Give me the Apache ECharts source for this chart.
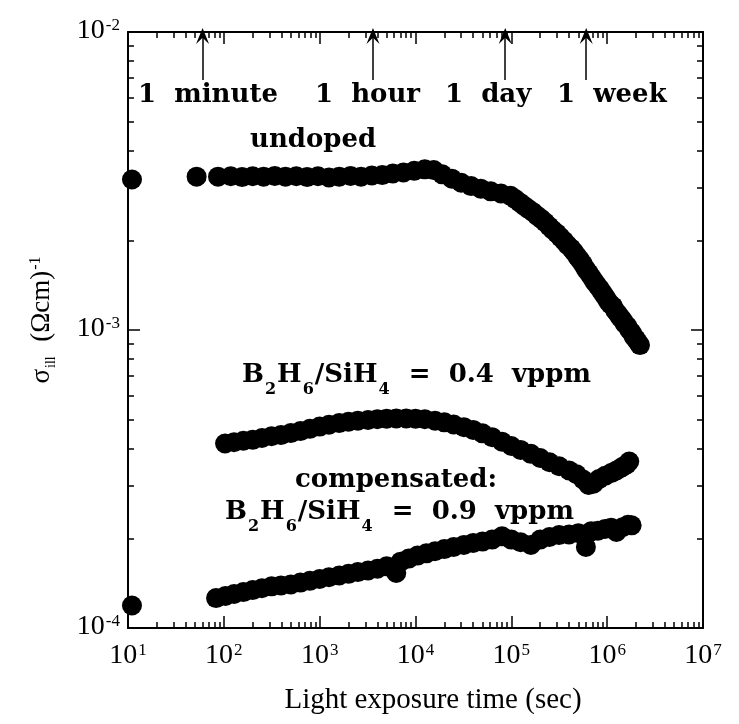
<!DOCTYPE html>
<html>
<head>
<meta charset="utf-8">
<script src="https://cdn.jsdelivr.net/npm/echarts@6/dist/echarts.min.js"></script>
<style>
  html, body { margin: 0; background: #fff; }
  #chart { width: 739px; height: 724px; }
</style>
</head>
<body>
<div id="chart"></div>
<script>
// light exposure time (sec) and sigma_ill (Ohm cm)^-1
const undopedTime = [11, 52, 87, 118, 155, 200, 260, 340, 440, 570, 740, 960, 1250, 1600, 2100, 2700, 3500, 4500, 5800, 7500, 9700, 12500, 15500, 19000, 24000, 30000, 38000, 48000, 61000, 78000, 98000, 110000, 122000, 136000, 150000, 167000, 185000, 205000, 225000, 248000, 270000, 298000, 325000, 355000, 385000, 420000, 450000, 485000, 520000, 560000, 600000, 645000, 690000, 740000, 790000, 845000, 900000, 960000, 1020000, 1080000, 1150000, 1220000, 1300000, 1380000, 1450000, 1530000, 1620000, 1710000, 1800000, 1900000, 2000000, 2100000, 2200000];
const undopedSigma = [3.20e-3, 3.27e-3, 3.27e-3, 3.28e-3, 3.26e-3, 3.28e-3, 3.27e-3, 3.29e-3, 3.27e-3, 3.28e-3, 3.26e-3, 3.28e-3, 3.25e-3, 3.27e-3, 3.29e-3, 3.27e-3, 3.30e-3, 3.31e-3, 3.35e-3, 3.38e-3, 3.42e-3, 3.46e-3, 3.44e-3, 3.33e-3, 3.22e-3, 3.12e-3, 3.04e-3, 2.98e-3, 2.92e-3, 2.87e-3, 2.82e-3, 2.75e-3, 2.68e-3, 2.61e-3, 2.55e-3, 2.49e-3, 2.42e-3, 2.36e-3, 2.30e-3, 2.23e-3, 2.17e-3, 2.11e-3, 2.05e-3, 1.99e-3, 1.93e-3, 1.88e-3, 1.83e-3, 1.77e-3, 1.72e-3, 1.66e-3, 1.60e-3, 1.55e-3, 1.50e-3, 1.45e-3, 1.41e-3, 1.37e-3, 1.33e-3, 1.29e-3, 1.25e-3, 1.22e-3, 1.20e-3, 1.16e-3, 1.13e-3, 1.10e-3, 1.08e-3, 1.05e-3, 1.03e-3, 1.00e-3, 0.98e-3, 0.95e-3, 0.93e-3, 0.91e-3, 0.89e-3];

const dopedTime = [103, 128, 160, 200, 250, 315, 395, 500, 630, 790, 1000, 1250, 1600, 2000, 2500, 3200, 4000, 5000, 6300, 8000, 10000, 12500, 16000, 20000, 25000, 32000, 40000, 50000, 63000, 80000, 100000, 125000, 160000, 200000, 250000, 315000, 400000, 480000, 560000, 640000, 720000, 820000, 950000, 1100000, 1250000, 1420000, 1600000, 1700000];
const dopedSigma = [4.16e-4, 4.20e-4, 4.25e-4, 4.28e-4, 4.34e-4, 4.40e-4, 4.44e-4, 4.51e-4, 4.58e-4, 4.66e-4, 4.74e-4, 4.81e-4, 4.87e-4, 4.92e-4, 4.96e-4, 4.99e-4, 5.02e-4, 5.04e-4, 5.05e-4, 5.05e-4, 5.04e-4, 5.02e-4, 4.96e-4, 4.90e-4, 4.82e-4, 4.72e-4, 4.62e-4, 4.50e-4, 4.37e-4, 4.22e-4, 4.08e-4, 3.96e-4, 3.84e-4, 3.72e-4, 3.60e-4, 3.49e-4, 3.38e-4, 3.28e-4, 3.15e-4, 3.02e-4, 3.05e-4, 3.16e-4, 3.24e-4, 3.31e-4, 3.38e-4, 3.46e-4, 3.54e-4, 3.62e-4];

const compTime = [11, 83, 104, 128, 160, 200, 250, 315, 395, 500, 630, 790, 1000, 1250, 1600, 2000, 2500, 3200, 4000, 5000, 6300, 7000, 8500, 10500, 13000, 16000, 20000, 25000, 32000, 40000, 50000, 63000, 80000, 100000, 125000, 160000, 200000, 250000, 315000, 400000, 500000, 600000, 680000, 800000, 950000, 1100000, 1250000, 1450000, 1650000, 1800000];
const compSigma = [1.19e-4, 1.26e-4, 1.28e-4, 1.30e-4, 1.32e-4, 1.34e-4, 1.36e-4, 1.38e-4, 1.39e-4, 1.40e-4, 1.42e-4, 1.44e-4, 1.46e-4, 1.48e-4, 1.50e-4, 1.52e-4, 1.54e-4, 1.56e-4, 1.58e-4, 1.61e-4, 1.53e-4, 1.67e-4, 1.71e-4, 1.75e-4, 1.78e-4, 1.81e-4, 1.84e-4, 1.87e-4, 1.90e-4, 1.93e-4, 1.95e-4, 1.98e-4, 2.03e-4, 1.98e-4, 1.94e-4, 1.90e-4, 1.98e-4, 2.02e-4, 2.05e-4, 2.06e-4, 2.08e-4, 1.87e-4, 2.11e-4, 2.12e-4, 2.15e-4, 2.17e-4, 2.10e-4, 2.18e-4, 2.22e-4, 2.21e-4];

// time marks shown with arrows at the top
const markTimes = [60, 3600, 86400, 604800];
const markLabels = ['1  minute', '1  hour', '1  day', '1  week'];

// axis ticks
const xMajorTicks = [1e1, 1e2, 1e3, 1e4, 1e5, 1e6, 1e7];
const yMajorTicks = [1e-4, 1e-3, 1e-2];
const minorFactors = [2, 3, 4, 5, 6, 7, 8, 9];

const minorOf = (majors) => {
  const out = [];
  majors.slice(0, -1).forEach(m => minorFactors.forEach(k => out.push(m * k)));
  return out;
};
const xMinorTicks = minorOf(xMajorTicks);
const yMinorTicks = minorOf(yMajorTicks);

const zip = (a, b) => a.map((v, i) => [v, b[i]]);

const serif = '"Liberation Serif", "DejaVu Serif", serif';
const boldSerif = '"DejaVu Serif", serif';

const powLabel = {
  formatter: v => '{b|10}{s|' + Math.round(Math.log10(v)) + '}',
  rich: {
    b: { fontFamily: serif, fontSize: 28, color: '#000', lineHeight: 30, verticalAlign: 'top' },
    s: { fontFamily: serif, fontSize: 17, color: '#000', verticalAlign: 'top', padding: [0, 0, 0, 1] }
  }
};

function makeAxis(position, min, max, values, major, withLabel, margin) {
  return {
    type: 'log',
    logBase: 10,
    position: position,
    min: min,
    max: max,
    axisLine: { show: major, onZero: false, lineStyle: { color: '#000', width: 2 } },
    axisTick: {
      show: true, inside: true, length: major ? 12 : 6, customValues: values,
      lineStyle: { color: '#000', width: 1.5 }
    },
    axisLabel: Object.assign({ show: withLabel, customValues: values, margin: margin }, powLabel),
    splitLine: { show: false },
    minorTick: { show: false }
  };
}

const subRich = {
  m: { fontFamily: boldSerif, fontWeight: 'bold', fontSize: 26, color: '#000', lineHeight: 28, verticalAlign: 'top' },
  d: { fontFamily: boldSerif, fontWeight: 'bold', fontSize: 16, color: '#000', verticalAlign: 'bottom', padding: [20, 1, 0, 1] }
};
const formulaText = conc =>
  '{m|B}{d|2}{m|H}{d|6}{m|/SiH}{d|4}{m|  =  ' + conc + '  vppm}';

const chart = echarts.init(document.getElementById('chart'), null, { renderer: 'canvas' });

const annotation = (x, y, text) => ({
  type: 'text', x: x, y: y, silent: true,
  style: { text: text, font: 'bold 26px ' + boldSerif, fill: '#000', verticalAlign: 'middle' }
});

const dots = { symbol: 'circle', symbolSize: 20, itemStyle: { color: '#000', opacity: 1 } };

const option = {
  animation: false,
  backgroundColor: '#fff',
  grid: { left: 128, right: 36, top: 32, bottom: 96 },
  xAxis: [
    makeAxis('bottom', 1e1, 1e7, xMajorTicks, true, true, 14),
    makeAxis('bottom', 1e1, 1e7, xMinorTicks, false, false, 14),
    makeAxis('top', 1e1, 1e7, xMajorTicks, true, false, 14),
    makeAxis('top', 1e1, 1e7, xMinorTicks, false, false, 14)
  ],
  yAxis: [
    makeAxis('left', 1e-4, 1e-2, yMajorTicks, true, true, 8),
    makeAxis('left', 1e-4, 1e-2, yMinorTicks, false, false, 8),
    makeAxis('right', 1e-4, 1e-2, yMajorTicks, true, false, 8),
    makeAxis('right', 1e-4, 1e-2, yMinorTicks, false, false, 8)
  ],
  series: [
    Object.assign({
      name: 'undoped', type: 'scatter', data: zip(undopedTime, undopedSigma),
      markLine: {
        silent: true,
        symbol: ['none', 'path://M5,0 L10,13 L5,8 L0,13 Z'],
        symbolSize: [13, 16],
        lineStyle: { color: '#000', width: 1.5, type: 'solid' },
        label: { show: false },
        data: markTimes.map(t => [{ coord: [t, 6.9e-3] }, { coord: [t, 9.7e-3] }])
      }
    }, dots),
    Object.assign({
      name: 'B2H6/SiH4 = 0.4 vppm', type: 'scatter', data: zip(dopedTime, dopedSigma)
    }, dots),
    Object.assign({
      name: 'compensated', type: 'scatter', data: zip(compTime, compSigma)
    }, dots)
  ],
  graphic: [
    annotation(138, 95, markLabels[0]),
    annotation(315, 95, markLabels[1]),
    annotation(445, 95, markLabels[2]),
    annotation(557, 95, markLabels[3]),
    annotation(250, 140, 'undoped'),
    annotation(295, 480, 'compensated:'),
    {
      type: 'text', x: 242, y: 362, silent: true,
      style: { text: formulaText('0.4'), rich: subRich, verticalAlign: 'top' }
    },
    {
      type: 'text', x: 225, y: 499, silent: true,
      style: { text: formulaText('0.9'), rich: subRich, verticalAlign: 'top' }
    },
    {
      type: 'text', x: 433, y: 700, silent: true,
      style: { text: 'Light exposure time (sec)', font: '29px ' + serif, fill: '#000', align: 'center', verticalAlign: 'middle' }
    },
    {
      type: 'text', x: 43, y: 320, rotation: Math.PI / 2, silent: true,
      style: {
        text: '{m|σ}{d|ill}{m|  (Ωcm)}{u|-1}',
        align: 'center', verticalAlign: 'middle',
        rich: {
          m: { fontFamily: serif, fontSize: 27, color: '#000', lineHeight: 28, verticalAlign: 'top' },
          d: { fontFamily: serif, fontSize: 14, color: '#000', verticalAlign: 'bottom', padding: [16, 1, 0, 1] },
          u: { fontFamily: serif, fontSize: 16, color: '#000', verticalAlign: 'top', padding: [0, 0, 0, 1] }
        }
      }
    }
  ]
};

chart.setOption(option);
window.addEventListener('resize', () => chart.resize());
</script>
</body>
</html>
